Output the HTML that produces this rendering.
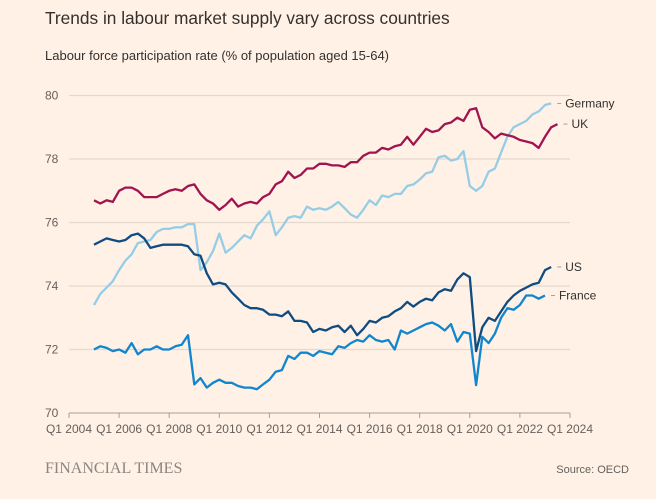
<!DOCTYPE html>
<html><head><meta charset="utf-8"><style>
body{margin:0;background:#fff1e5;width:656px;height:494px;overflow:hidden;font-family:"Liberation Sans",sans-serif;}
</style></head><body>
<svg id="chart" width="656" height="494" xmlns="http://www.w3.org/2000/svg">
<rect width="656" height="494" fill="#fff1e5"/>
<text x="45" y="24" font-size="17.3" fill="#33302e">Trends in labour market supply vary across countries</text>
<text x="45" y="60" font-size="13" fill="#33302e">Labour force participation rate (% of population aged 15-64)</text>
<g id="grid"></g><g id="lines"></g><g id="labels"></g>
<text x="45" y="473" font-family="Liberation Serif,serif" font-size="16" fill="#8b8580">FINANCIAL TIMES</text>
<text x="629" y="473" font-size="11" fill="#66605c" text-anchor="end">Source: OECD</text>
</svg>
<script>
const yTicks=[70,72,74,76,78,80];
const xTickYears=[2004,2006,2008,2010,2012,2014,2016,2018,2020,2022,2024];
const startYear=2005;
const uk=[76.7,76.6,76.7,76.65,77.0,77.1,77.1,77.0,76.8,76.8,76.8,76.9,77.0,77.05,77.0,77.15,77.2,76.9,76.7,76.6,76.4,76.55,76.75,76.5,76.6,76.65,76.6,76.8,76.9,77.2,77.3,77.6,77.4,77.5,77.7,77.7,77.85,77.85,77.8,77.8,77.75,77.9,77.9,78.1,78.2,78.2,78.35,78.3,78.4,78.45,78.7,78.45,78.7,78.95,78.85,78.9,79.1,79.15,79.3,79.2,79.55,79.6,79.0,78.85,78.65,78.8,78.75,78.7,78.6,78.55,78.5,78.35,78.7,79.0,79.1];
const germany=[73.4,73.75,73.95,74.15,74.5,74.8,75.0,75.35,75.4,75.45,75.7,75.8,75.8,75.85,75.85,75.95,75.95,74.5,74.75,75.1,75.65,75.05,75.2,75.4,75.6,75.5,75.9,76.1,76.35,75.6,75.85,76.15,76.2,76.15,76.5,76.4,76.45,76.4,76.5,76.65,76.45,76.25,76.15,76.4,76.7,76.55,76.85,76.8,76.9,76.9,77.15,77.2,77.35,77.55,77.6,78.05,78.1,77.95,78.0,78.25,77.15,77.0,77.15,77.6,77.7,78.2,78.7,79.0,79.1,79.2,79.4,79.5,79.7,79.75];
const us=[75.3,75.4,75.5,75.45,75.4,75.45,75.6,75.65,75.5,75.2,75.25,75.3,75.3,75.3,75.3,75.25,75.0,74.95,74.4,74.05,74.1,74.05,73.8,73.6,73.4,73.3,73.3,73.25,73.1,73.1,73.05,73.2,72.9,72.9,72.85,72.55,72.65,72.6,72.7,72.75,72.55,72.75,72.45,72.65,72.9,72.85,73.0,73.05,73.2,73.3,73.5,73.35,73.5,73.6,73.55,73.8,73.9,73.85,74.2,74.4,74.28,71.95,72.7,73.0,72.9,73.2,73.5,73.7,73.85,73.95,74.05,74.1,74.5,74.6];
const france=[72.0,72.1,72.05,71.95,72.0,71.9,72.2,71.85,72.0,72.0,72.1,72.0,72.0,72.1,72.15,72.45,70.9,71.1,70.8,70.95,71.05,70.95,70.95,70.85,70.8,70.8,70.75,70.9,71.05,71.3,71.35,71.8,71.7,71.9,71.9,71.8,71.95,71.9,71.85,72.1,72.05,72.2,72.3,72.25,72.45,72.3,72.25,72.3,72.0,72.6,72.5,72.6,72.7,72.8,72.85,72.75,72.6,72.8,72.25,72.55,72.5,70.88,72.4,72.2,72.5,73.0,73.3,73.25,73.4,73.7,73.7,73.6,73.7];
const seriesNames=["Germany","UK","US","France"];
const series=[germany,uk,us,france];
const colors=["#96cde6","#a0144f","#0f4c81","#0f86cf"];
const ns="http://www.w3.org/2000/svg";
const x=t=>69+(t-2004)*25.05;
const y=v=>413-(v-70)*31.75;
function mk(tag,attrs,parent){const e=document.createElementNS(ns,tag);for(const k in attrs)e.setAttribute(k,attrs[k]);parent.appendChild(e);return e;}
const grid=document.getElementById('grid'),lines=document.getElementById('lines'),labels=document.getElementById('labels');
yTicks.forEach(v=>{
  const l=mk('line',{x1:69,x2:570,y1:y(v),y2:y(v),stroke:v===70?'#a79f98':'#e3d9cf','stroke-width':v===70?1:1.3},grid);
  
  
  const t=mk('text',{x:45,y:y(v)+4,'font-size':12,fill:'#66605c'},grid);
  t.textContent=v;
  
  
});
xTickYears.forEach(yr=>{
  const tk=mk('line',{x1:x(yr),x2:x(yr),y1:413,y2:418,stroke:'#a79f98','stroke-width':1},grid);
  
  
  const t=mk('text',{x:x(yr),y:433,'font-size':12,fill:'#66605c','text-anchor':'middle'},grid);
  t.textContent='Q1 '+yr;
  
  
});
series.forEach((d,i)=>{
  const pts=d.map((v,j)=>x(startYear+j/4).toFixed(1)+','+y(v).toFixed(1)).join(' ');
  const p=mk('polyline',{points:pts,fill:'none',stroke:colors[i],'stroke-width':2.3,'stroke-linejoin':'round'},lines);
  
  
  const last=d[d.length-1], lx=x(startYear+(d.length-1)/4);
  const dash=mk('line',{x1:lx+6,x2:lx+10,y1:y(last),y2:y(last),stroke:'#a79f98','stroke-width':1},labels);
  
  
  const t=mk('text',{x:lx+14,y:y(last)+4,'font-size':12,fill:'#33302e'},labels);
  t.textContent=seriesNames[i];
  
  
});
</script>
</body></html>
